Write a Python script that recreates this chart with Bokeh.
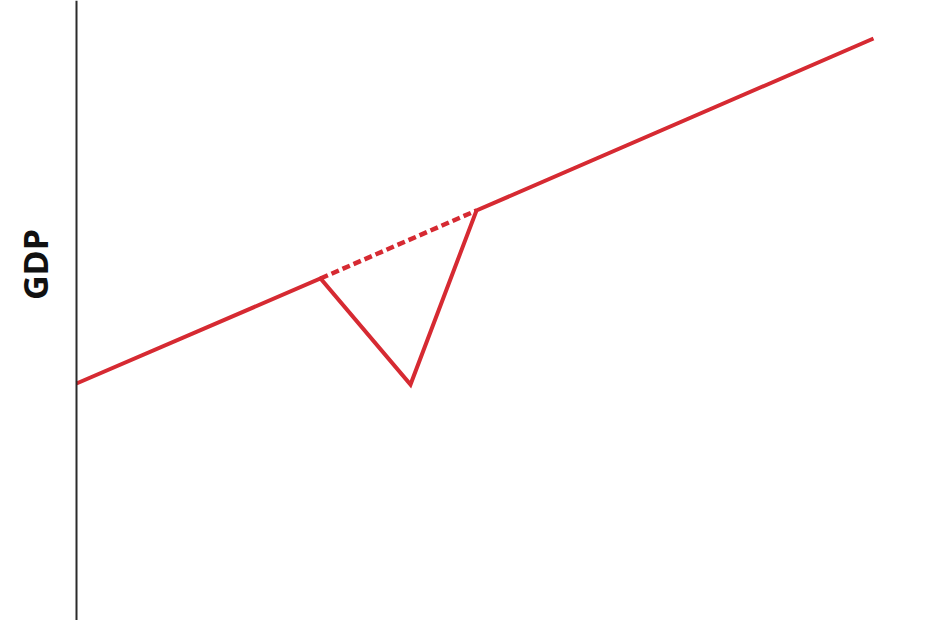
import math
from bokeh.plotting import figure
from bokeh.models import Range1d, Label, Span
from bokeh.embed import file_html
from bokeh.resources import INLINE

# Data (abstract units)
times = [0.0, 2.44, 3.34, 4.00, 7.97]
gdp = [2.29, 3.34, 2.28, 4.02, 5.74]
trend_times = [2.44, 4.00]
trend_gdp = [3.34, 4.02]
y_label = "GDP"
axis_origin = 0.0

RED = "#d62a32"

p = figure(width=930, height=620, output_backend="svg", toolbar_location=None,
           x_range=Range1d(-0.76, 8.54), y_range=Range1d(-0.08, 6.12),
           x_axis_location=None, y_axis_location=None,
           min_border_left=0, min_border_right=0, min_border_top=0, min_border_bottom=0)
p.outline_line_color = None
p.xgrid.visible = False
p.ygrid.visible = False
p.background_fill_color = "white"
p.border_fill_color = "white"

# vertical (GDP) axis line at the time origin
p.add_layout(Span(location=axis_origin, dimension="height",
                  line_color="#2b2b2b", line_width=2))

lbl = Label(x=-0.42, y=3.48, text=y_label, angle=math.pi / 2,
            text_align="center", text_baseline="middle",
            text_font="Open Sans", text_font_style="bold",
            text_font_size="34px", text_color="#111111")
p.add_layout(lbl)

p.line(trend_times, trend_gdp, line_color=RED, line_width=4.5, line_dash="8 4")
p.line(times, gdp, line_color=RED, line_width=4, line_join="miter")

open("out.html", "w").write(file_html(p, INLINE))
